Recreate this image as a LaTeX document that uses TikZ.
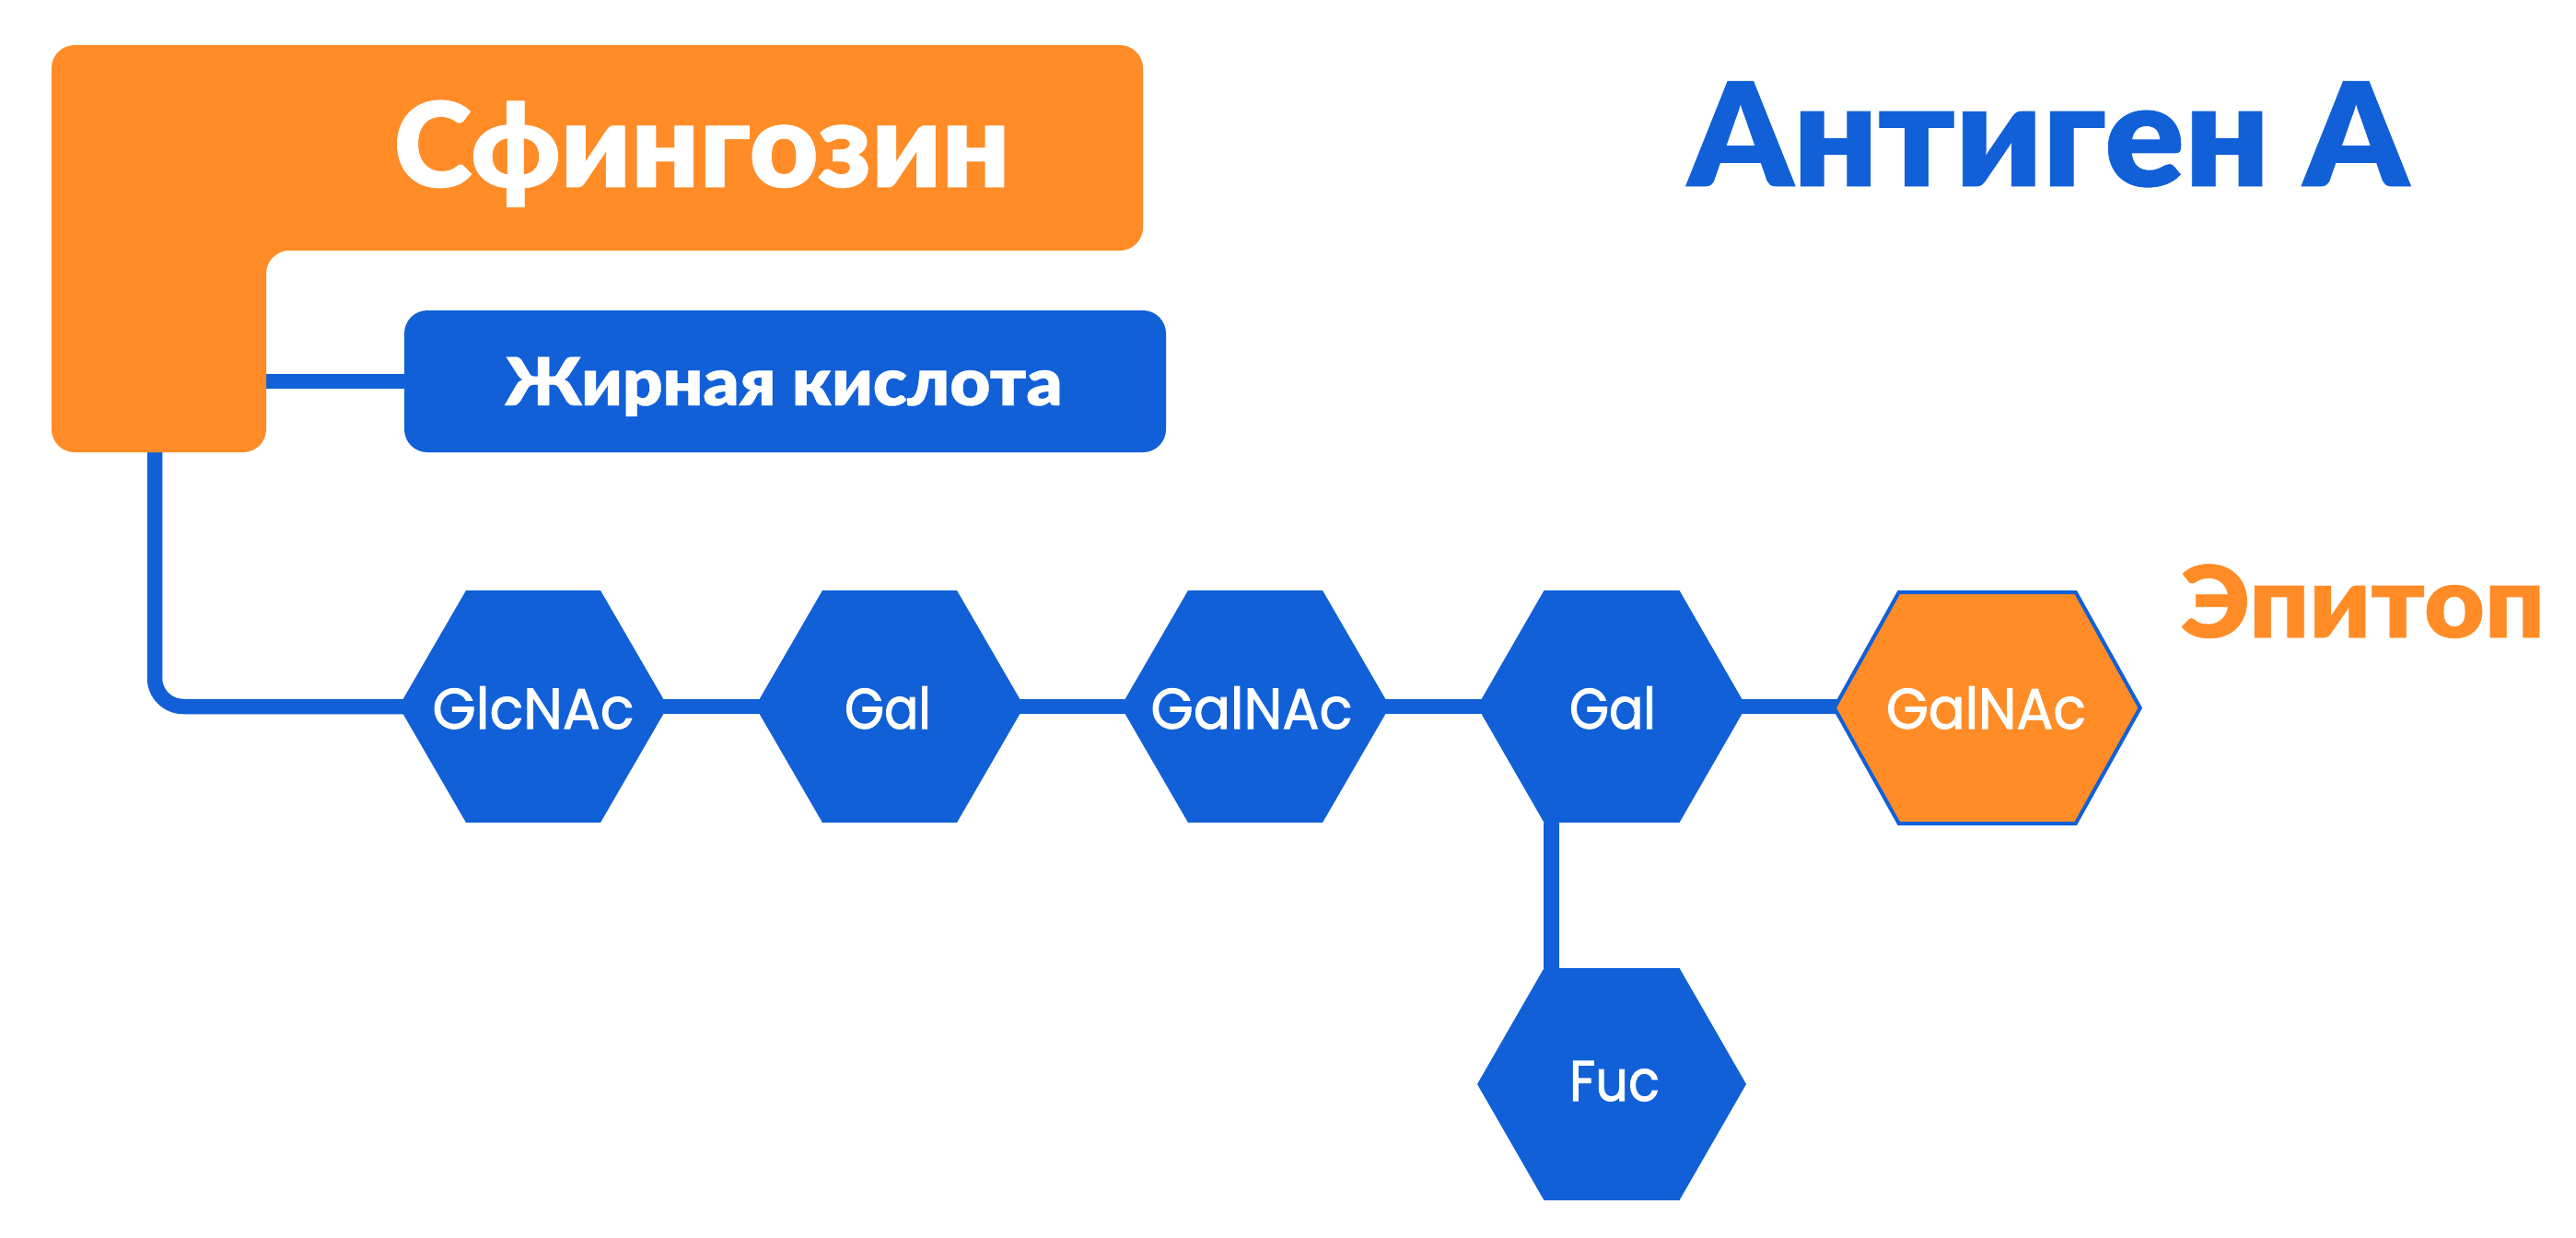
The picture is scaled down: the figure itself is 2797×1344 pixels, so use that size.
\documentclass[tikz,border=0pt]{standalone}
\usepackage{fontspec}
\usepackage{graphicx}
\newfontfamily\headfont{Lato}[BoldFont={Lato Black},BoldFeatures={FakeBold=0.5}]
\newfontfamily\labfont{Poppins}[FakeBold=1.6]
\definecolor{bluemain}{RGB}{17,96,216}
\definecolor{orangemain}{RGB}{255,140,38}
\pgfdeclarelayer{bg}
\pgfsetlayers{bg,main}
% fit text to a width given in pt by stretching horizontally
\newcommand\fitw[2]{\setbox0\hbox{#2}\pgfmathsetmacro\fitratio{#1/\the\wd0}\scalebox{\fitratio}[1]{\box0}}
\newcommand\headtxt[3]{\fontsize{#1}{#1}\selectfont\headfont\bfseries\fitw{#2}{#3}}
\newcommand\labtxt[2]{\fontsize{31}{31}\selectfont\labfont\fitw{#1}{#2}}
% name, cx, cy, half width, half top edge, half height, extra options
\newcommand\hexshape[7]{%
  \coordinate (#1) at (#2,#3);
  \coordinate (#1sw) at (#2-#5,#3+#6);
  \coordinate (#1nw) at (#2-#5,#3-#6);
  \path[#7] (#2-#4,#3) -- (#1nw) -- (#2+#5,#3-#6) -- (#2+#4,#3) -- (#2+#5,#3+#6) -- (#1sw) -- cycle;
}
\tikzset{
  hexblue/.style={fill=bluemain},
  hexorange/.style={fill=orangemain,draw=bluemain,line width=2pt,line join=miter},
  bond/.style={draw=bluemain,line width=8.25pt},
  hexlabel/.style={anchor=base,text=white,inner sep=0pt},
  headlabel/.style={anchor=base,inner sep=0pt},
  lipidbox/.style={fill=bluemain,rounded corners=12.5pt,minimum width=413.5pt,minimum height=77pt,inner sep=0pt,anchor=center}
}
\begin{document}
\begin{tikzpicture}[x=0.5pt,y=-0.5pt]
\useasboundingbox (0,0) rectangle (2797,1344);
\begin{pgfonlayer}{bg}
\fill[white] (0,0) rectangle (2797,1344);
\end{pgfonlayer}
% sphingosine L shape
\fill[orangemain,rounded corners=12.5pt] (56,49) -- (1241,49) -- (1241,272) -- (289,272) -- (289,491) -- (56,491) -- cycle;
\coordinate (sphbottom) at (168,491);
\coordinate (sphright) at (289,414);
\node[headlabel,text=white] (sph) at (762,203) {\headtxt{64}{334.5}{Сфингозин}};
% fatty acid
\node[lipidbox] (fat) at (852.5,414) {};
\node[headlabel,text=white] (fattxt) at (851,440) {\headtxt{36}{302.5}{Жирная кислота}};
% hexagons
\hexshape{glc}{579}{767}{146}{73}{126}{hexblue}
\hexshape{galone}{966}{767}{146}{73}{126}{hexblue}
\hexshape{galnac}{1363}{767}{146}{73}{126}{hexblue}
\hexshape{galtwo}{1750}{767}{146}{73.5}{126}{hexblue}
\hexshape{epi}{2157.75}{768.5}{166}{96}{125.5}{hexorange}
\hexshape{fuc}{1750}{1177}{146}{73.5}{126}{hexblue}
\node[hexlabel] (glctxt) at (579,791) {\labtxt{109.5}{GlcNAc}};
\node[hexlabel] (galonetxt) at (964,791) {\labtxt{47}{Gal}};
\node[hexlabel] (galnactxt) at (1359,791) {\labtxt{109.5}{GalNAc}};
\node[hexlabel] (galtwotxt) at (1751,791) {\labtxt{47}{Gal}};
\node[hexlabel] (epitxt) at (2156.5,791) {\labtxt{108.5}{GalNAc}};
\node[hexlabel] (fuctxt) at (1753,1195) {\labtxt{49}{Fuc}};
% titles
\node[headlabel,text=bluemain] (title) at (2224,202) {\headtxt{78}{391}{Антиген А}};
\node[headlabel,text=orangemain] (epitope) at (2565.5,692) {\headtxt{54}{197.5}{Эпитоп}};
% connectors
\begin{pgfonlayer}{bg}
\draw[bond] (sphright) -- (fat);
\draw[bond,rounded corners=15.5pt] (sphbottom) |- (glc);
\draw[bond] (glc) -- (galone);
\draw[bond] (galone) -- (galnac);
\draw[bond] (galnac) -- (galtwo);
\draw[bond] (galtwo) -- (galtwo -| epi);
\draw[bond] ([xshift=4pt]galtwosw) -- ([xshift=4pt]fucnw);
\end{pgfonlayer}
\end{tikzpicture}
\end{document}
